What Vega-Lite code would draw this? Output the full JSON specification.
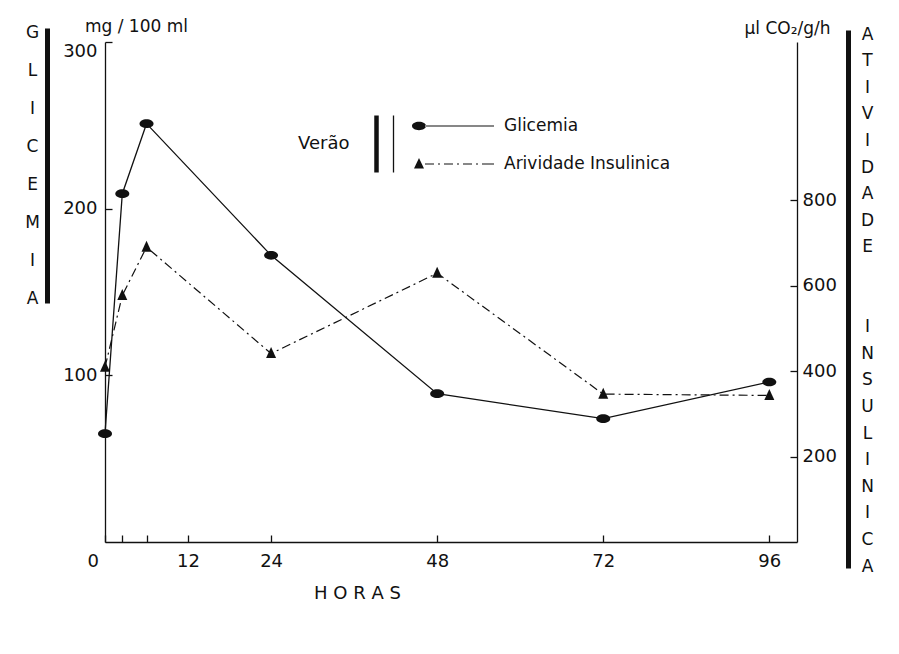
{
  "$schema": "https://vega.github.io/schema/vega-lite/v6.json",
  "width": 692,
  "height": 500,
  "autosize": {"type": "none"},
  "padding": {"left": 105, "top": 42, "right": 102, "bottom": 112},
  "background": "white",
  "config": {
    "view": {"stroke": null},
    "font": "DejaVu Sans",
    "axis": {
      "domainColor": "#111",
      "domainWidth": 1.3,
      "tickColor": "#111",
      "tickWidth": 1.3,
      "labelColor": "#111",
      "titleColor": "#111",
      "grid": false,
      "titleFontWeight": "normal",
      "labelFont": "DejaVu Sans",
      "titleFont": "DejaVu Sans",
      "labelFontSize": 18,
      "titleFontSize": 16
    },
    "legend": {
      "labelFont": "DejaVu Sans",
      "titleFont": "DejaVu Sans",
      "labelColor": "#111",
      "titleColor": "#111"
    }
  },
  "datasets": {
    "pts": [
      {"hora": 0, "serie": "Glicemia", "valor": 65},
      {"hora": 2.5, "serie": "Glicemia", "valor": 209},
      {"hora": 6, "serie": "Glicemia", "valor": 251},
      {"hora": 24, "serie": "Glicemia", "valor": 172},
      {"hora": 48, "serie": "Glicemia", "valor": 89},
      {"hora": 72, "serie": "Glicemia", "valor": 74},
      {"hora": 96, "serie": "Glicemia", "valor": 96},
      {"hora": 0, "serie": "Arividade Insulinica", "valor": 409},
      {"hora": 2.5, "serie": "Arividade Insulinica", "valor": 577},
      {"hora": 6, "serie": "Arividade Insulinica", "valor": 690},
      {"hora": 24, "serie": "Arividade Insulinica", "valor": 441},
      {"hora": 48, "serie": "Arividade Insulinica", "valor": 629},
      {"hora": 72, "serie": "Arividade Insulinica", "valor": 346},
      {"hora": 96, "serie": "Arividade Insulinica", "valor": 343}
    ]
  },
  "data": {"name": "pts"},
  "encoding": {
    "x": {
      "field": "hora",
      "type": "quantitative",
      "scale": {"domain": [0, 100], "nice": false},
      "axis": {
        "values": [0, 2.5, 6, 12, 24, 48, 72, 96],
        "labelExpr": "(datum.value == 2.5 || datum.value == 6) ? '' : datum.label",
        "labelOverlap": false,
        "labelFlush": true,
        "labelFlushOffset": 18,
        "tickSize": -7,
        "labelPadding": 17,
        "title": "H O R A S",
        "titleFontSize": 18,
        "titleX": 252,
        "titleY": 51,
        "titleBaseline": "middle",
        "titleAlign": "center"
      }
    }
  },
  "layer": [
    {
      "transform": [{"filter": "datum.serie === 'Glicemia'"}],
      "encoding": {
        "y": {
          "field": "valor",
          "type": "quantitative",
          "scale": {"domain": [0, 300], "nice": false},
          "axis": {
            "orient": "left",
            "values": [100, 200, 300],
            "tickSize": -7,
            "labelPadding": 15,
            "labelFlush": true,
            "title": "mg / 100 ml",
            "titleFontSize": 17,
            "titleAngle": 0,
            "titleX": 31,
            "titleY": -16,
            "titleAlign": "center",
            "titleBaseline": "middle"
          }
        }
      },
      "layer": [
        {"mark": {"type": "line", "color": "#111", "strokeWidth": 1.3}},
        {"mark": {"type": "point", "filled": true, "color": "#111", "opacity": 1, "size": 196, "shape": "M-1,0A1,0.62 0 1,0 1,0A1,0.62 0 1,0 -1,0Z"}}
      ]
    },
    {
      "transform": [{"filter": "datum.serie === 'Arividade Insulinica'"}],
      "encoding": {
        "y": {
          "field": "valor",
          "type": "quantitative",
          "scale": {"domain": [0, 1170], "nice": false},
          "axis": {
            "orient": "right",
            "values": [200, 400, 600, 800],
            "tickSize": -7,
            "labelPadding": 12,
            "title": "µl CO₂/g/h",
            "titleFontSize": 17,
            "titleAngle": 0,
            "titleX": -10,
            "titleY": -14,
            "titleAlign": "center",
            "titleBaseline": "middle"
          }
        }
      },
      "layer": [
        {"mark": {"type": "line", "color": "#111", "strokeWidth": 1.2, "strokeDash": [9, 4, 2, 4]}},
        {"mark": {"type": "point", "filled": true, "color": "#111", "opacity": 1, "size": 100, "shape": "M0,-1.3L1,0.9L-1,0.9Z"}}
      ]
    },
    {
      "mark": {"type": "point", "filled": true, "color": "#111", "opacity": 0, "size": 400},
      "encoding": {
        "y": {
          "field": "valor",
          "type": "quantitative",
          "scale": {"range": [261, -14]},
          "axis": {
            "orient": "left",
            "offset": 58,
            "domainWidth": 5,
            "ticks": false,
            "labels": false,
            "title": ["G", "L", "I", "C", "E", "M", "I", "A"],
            "titleAngle": 0,
            "titleX": -15,
            "titleY": -18,
            "titleAlign": "center",
            "titleBaseline": "top",
            "titleLineHeight": 38,
            "titleFontSize": 17
          }
        },
        "shape": {
          "field": "serie",
          "type": "nominal",
          "scale": {
            "domain": ["Glicemia", "Arividade Insulinica"],
            "range": [
              "M-0.7,0A0.7,0.42 0 1,0 0.7,0A0.7,0.42 0 1,0 -0.7,0Z M0.6,-0.06L7.5,-0.06L7.5,0.06L0.6,0.06Z",
              "M0,-0.6L0.5,0.45L-0.5,0.45Z M0.6,-0.06L1.5,-0.06L1.5,0.06L0.6,0.06Z M1.9,-0.06L2.1,-0.06L2.1,0.06L1.9,0.06Z M2.5,-0.06L3.4,-0.06L3.4,0.06L2.5,0.06Z M3.8,-0.06L4,-0.06L4,0.06L3.8,0.06Z M4.4,-0.06L5.3,-0.06L5.3,0.06L4.4,0.06Z M5.7,-0.06L5.9,-0.06L5.9,0.06L5.7,0.06Z M6.3,-0.06L7.5,-0.06L7.5,0.06L6.3,0.06Z"
            ]
          },
          "legend": {
            "orient": "none",
            "legendX": 193,
            "legendY": 74,
            "padding": 0,
            "offset": 0,
            "title": "Verão",
            "titleOrient": "left",
            "titleAnchor": "middle",
            "titleBaseline": "middle",
            "titleFontSize": 18,
            "titleFontWeight": "normal",
            "titlePadding": 59,
            "labelFontSize": 17,
            "labelLimit": 400,
            "labelOffset": 75,
            "symbolSize": 400,
            "symbolOpacity": 1,
            "symbolFillColor": "#111",
            "symbolStrokeWidth": 0,
            "rowPadding": 20
          }
        }
      }
    },
    {
      "transform": [{"filter": "datum.serie === 'Arividade Insulinica'"}],
      "mark": {"type": "point", "opacity": 0},
      "encoding": {
        "y": {
          "field": "valor",
          "type": "quantitative",
          "scale": {"range": [526, -12]},
          "axis": {
            "orient": "right",
            "offset": 51,
            "domainWidth": 5,
            "ticks": false,
            "labels": false,
            "title": ["A", "T", "I", "V", "I", "D", "A", "D", "E", "\u2800", "\u2800", "I", "N", "S", "U", "L", "I", "N", "I", "C", "A"],
            "titleAngle": 0,
            "titleX": 19,
            "titleY": -16,
            "titleAlign": "center",
            "titleBaseline": "top",
            "titleLineHeight": 26.6,
            "titleFontSize": 17
          }
        }
      }
    },
    {
      "transform": [{"filter": "datum.serie === 'Glicemia'"}],
      "mark": {"type": "point", "opacity": 0},
      "encoding": {
        "y": {
          "field": "valor",
          "type": "quantitative",
          "scale": {"range": [130, 73]},
          "axis": {
            "orient": "left",
            "offset": -271,
            "domainWidth": 4.5,
            "ticks": false,
            "labels": false,
            "title": null
          }
        }
      }
    },
    {
      "transform": [{"filter": "datum.serie === 'Glicemia'"}],
      "mark": {"type": "point", "opacity": 0},
      "encoding": {
        "y": {
          "field": "valor",
          "type": "quantitative",
          "scale": {"range": [130, 73]},
          "axis": {
            "orient": "left",
            "offset": -288,
            "domainWidth": 1.3,
            "ticks": false,
            "labels": false,
            "title": null
          }
        }
      }
    }
  ],
  "resolve": {"scale": {"y": "independent"}}
}
